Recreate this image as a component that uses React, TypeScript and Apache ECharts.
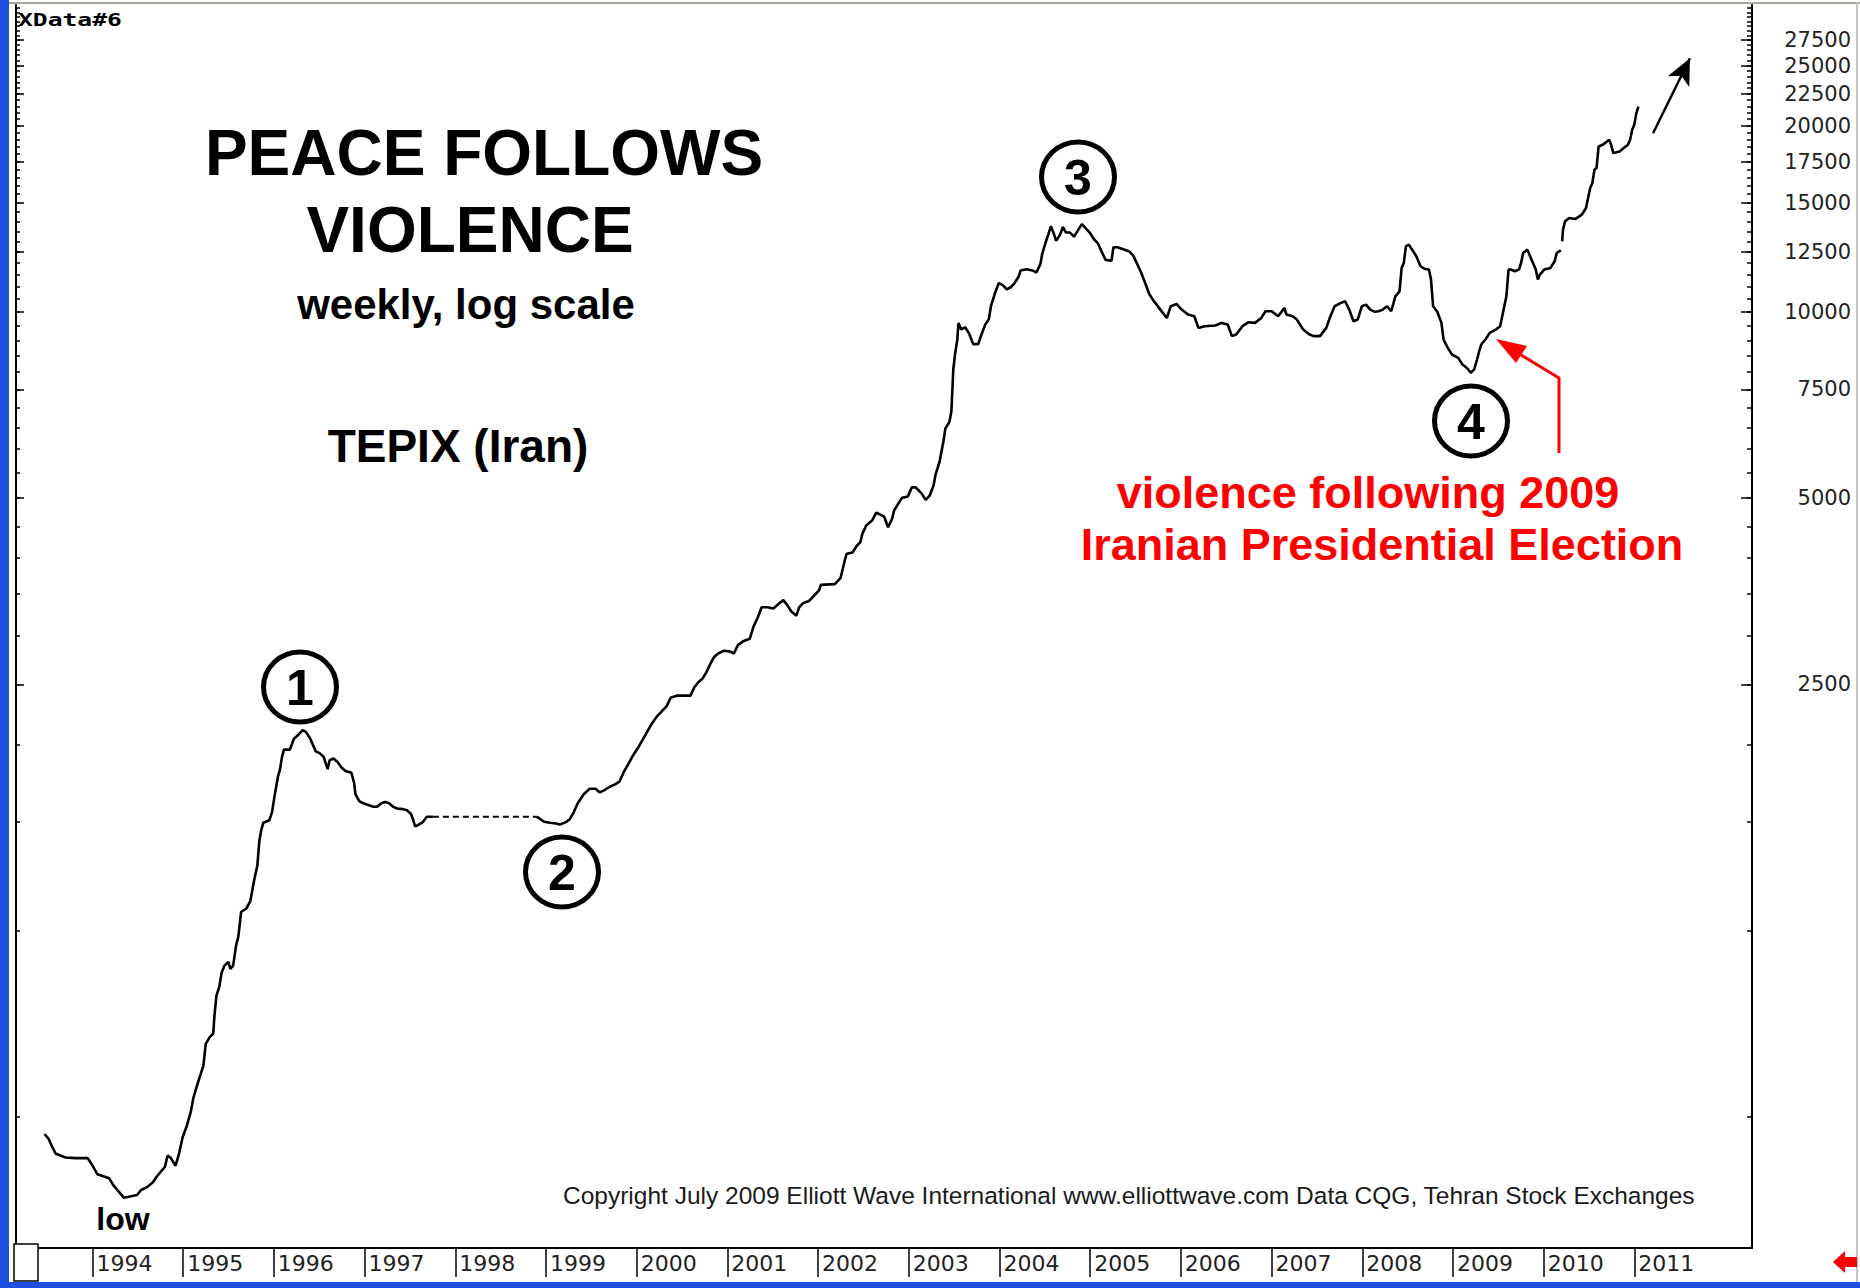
import React, { useEffect, useRef } from 'react';
import * as echarts from 'echarts';

// ---- data (decimal year, TEPIX index level) ----
const weekDates: number[] = [
  1993.472, 1993.516, 1993.551, 1993.595, 1993.704, 1993.813, 1993.945, 1993.989, 1994.054, 1994.185,
  1994.229, 1994.295, 1994.347, 1994.492, 1994.536, 1994.601, 1994.667, 1994.711, 1994.798, 1994.829,
  1994.864, 1994.916, 1994.951, 1994.995, 1995.039, 1995.083, 1995.113, 1995.148, 1995.192, 1995.223,
  1995.249, 1995.293, 1995.332, 1995.345, 1995.367, 1995.398, 1995.424, 1995.455, 1995.499, 1995.520,
  1995.551, 1995.586, 1995.608, 1995.639, 1995.696, 1995.740, 1995.783, 1995.818, 1995.840, 1995.862,
  1995.884, 1995.950, 1995.980, 1996.011, 1996.046, 1996.068, 1996.090, 1996.111, 1996.177, 1996.221,
  1996.265, 1996.317, 1996.352, 1996.396, 1996.462, 1996.505, 1996.549, 1996.593, 1996.615, 1996.658,
  1996.702, 1996.746, 1996.790, 1996.855, 1996.886, 1996.899, 1996.943, 1996.987, 1997.096, 1997.140,
  1997.184, 1997.228, 1997.271, 1997.315, 1997.359, 1997.424, 1997.468, 1997.512, 1997.534, 1997.556,
  1997.578, 1997.643, 1997.687, 1997.753,
  1998.300,
  1998.891, 1998.913, 1998.978, 1999.044, 1999.110, 1999.153, 1999.219, 1999.263, 1999.307, 1999.350,
  1999.416, 1999.482, 1999.547, 1999.591, 1999.635, 1999.700, 1999.766, 1999.810, 1999.854, 1999.898,
  1999.963,
  2000.026, 2000.092, 2000.157, 2000.222, 2000.266, 2000.331, 2000.375, 2000.440, 2000.593, 2000.636,
  2000.680, 2000.724, 2000.767, 2000.811, 2000.854, 2000.898, 2000.963, 2001.029, 2001.072, 2001.116,
  2001.181, 2001.247, 2001.290, 2001.334, 2001.378, 2001.443, 2001.508, 2001.574, 2001.617, 2001.661,
  2001.705, 2001.761, 2001.792, 2001.835, 2001.901, 2001.944, 2002.010, 2002.031, 2002.184, 2002.249,
  2002.293, 2002.315, 2002.380, 2002.424, 2002.467, 2002.489, 2002.533, 2002.598, 2002.642, 2002.685,
  2002.729, 2002.772, 2002.816, 2002.838, 2002.881, 2002.925, 2002.990, 2003.034, 2003.077, 2003.143,
  2003.186, 2003.230, 2003.274, 2003.295, 2003.339, 2003.383, 2003.404, 2003.448, 2003.470, 2003.491,
  2003.513, 2003.535, 2003.548, 2003.579, 2003.622, 2003.666, 2003.710, 2003.766, 2003.797, 2003.840,
  2003.884, 2003.906, 2003.949, 2003.993, 2004.037, 2004.080, 2004.124, 2004.167, 2004.211, 2004.233,
  2004.298, 2004.363, 2004.407, 2004.451, 2004.472, 2004.507, 2004.538, 2004.568, 2004.603, 2004.625,
  2004.669, 2004.699, 2004.734, 2004.778, 2004.821, 2004.865, 2004.908, 2004.952, 2004.995, 2005.039,
  2005.083, 2005.126, 2005.170, 2005.235, 2005.257, 2005.300, 2005.366, 2005.431, 2005.475, 2005.519,
  2005.562, 2005.606, 2005.649, 2005.693, 2005.780, 2005.845, 2005.889, 2005.954,
  2006.009, 2006.078, 2006.148, 2006.194, 2006.263, 2006.379, 2006.448, 2006.517, 2006.563, 2006.610,
  2006.679, 2006.748, 2006.817, 2006.887, 2006.933, 2007.002, 2007.072, 2007.141, 2007.164, 2007.233,
  2007.279, 2007.349, 2007.418, 2007.464, 2007.534, 2007.603, 2007.649, 2007.695, 2007.765, 2007.811,
  2007.857, 2007.903, 2007.949, 2007.996, 2008.042, 2008.088, 2008.134, 2008.180, 2008.227, 2008.273,
  2008.319, 2008.365, 2008.411, 2008.434, 2008.458, 2008.481, 2008.513, 2008.550, 2008.596, 2008.642,
  2008.689, 2008.735, 2008.758, 2008.781, 2008.827, 2008.873, 2008.896, 2008.943, 2008.989, 2009.058,
  2009.104, 2009.151, 2009.197, 2009.234, 2009.266, 2009.289, 2009.312, 2009.358, 2009.405, 2009.474,
  2009.520, 2009.543, 2009.566, 2009.589, 2009.613, 2009.636, 2009.682, 2009.728, 2009.751, 2009.774,
  2009.820, 2009.867, 2009.913, 2009.936, 2009.959, 2010.005, 2010.075, 2010.121, 2010.144, 2010.190,
  2010.197,
  2010.204, 2010.213, 2010.236, 2010.282, 2010.352, 2010.421, 2010.467, 2010.490, 2010.513, 2010.537,
  2010.560, 2010.583, 2010.606, 2010.652, 2010.698, 2010.721, 2010.744, 2010.768, 2010.837, 2010.883,
  2010.929, 2010.953, 2010.976, 2010.999, 2011.022, 2011.045,
];

const weekValues: (number | null)[] = [
  469, 461, 449, 436, 430, 429, 429, 420, 404, 398,
  388, 378, 370, 374, 381, 385, 392, 401, 415, 433,
  429, 417, 434, 464, 483, 509, 537, 559, 586, 605,
  656, 673, 682, 729, 785, 811, 855, 878, 890, 867,
  878, 951, 977, 1072, 1086, 1116, 1208, 1274, 1398, 1456,
  1494, 1508, 1555, 1662, 1776, 1824, 1910, 1962, 1962, 2042,
  2069, 2110, 2096, 2050, 1949, 1936, 1910, 1824, 1886, 1898,
  1873, 1836, 1812, 1800, 1729, 1662, 1618, 1607, 1586, 1586,
  1607, 1614, 1607, 1586, 1576, 1572, 1565, 1544, 1514, 1475,
  1479, 1498, 1528, 1528,
  null,
  1528, 1524, 1500, 1494, 1490, 1484, 1498, 1514, 1555, 1607,
  1662, 1696, 1696, 1673, 1684, 1707, 1725, 1741, 1800, 1848,
  1923,
  1987, 2066, 2149, 2218, 2253, 2306, 2379, 2398, 2398, 2474,
  2521, 2553, 2614, 2697, 2770, 2805, 2835, 2826, 2805, 2894,
  2940, 2963, 3105, 3204, 3332, 3332, 3316, 3384, 3422, 3358,
  3280, 3229, 3332, 3384, 3411, 3465, 3547, 3621, 3632, 3718,
  3959, 4066, 4085, 4182, 4248, 4383, 4522, 4608, 4740, 4703,
  4667, 4487, 4630, 4777, 4890, 5006, 5030, 5206, 5206, 5085,
  4969, 5047, 5248, 5458, 5721, 6186, 6484, 6641, 6905, 8075,
  8601, 9012, 9594, 9371, 9445, 9226, 8872, 8872, 9155, 9520,
  9745, 10216, 10708, 11135, 11049, 10877, 10963, 11135, 11400, 11670,
  11724, 11670, 11579, 11947, 12427, 12924, 13336, 13760, 13336, 13026,
  13336, 13718, 13439, 13439, 13231, 13546, 13868, 13653, 13439, 13127,
  12924, 12524, 12138, 12099, 12723, 12723, 12624, 12524, 12330, 11947,
  11579, 11135, 10708, 10459, 10058, 9777, 10216, 10297,
  10088, 9903, 9842, 9424, 9483, 9506, 9601, 9541, 9139, 9196,
  9483, 9625, 9601, 9781, 10026, 10026, 9842, 10151, 9903, 9842,
  9720, 9365, 9196, 9139, 9139, 9424, 9842, 10214, 10342, 10406,
  10088, 9661, 9720, 10214, 10278, 10088, 10010, 10026, 10088, 10214,
  10026, 10600, 10799, 11781, 12003, 12764, 12844, 12610, 12303, 11854,
  11737, 11708, 11281, 10214, 10010, 9601, 9025, 8750, 8535, 8430,
  8225, 8124, 7975, 8075, 8378, 8643, 8858, 9025, 9252, 9365,
  9483, 9842, 10214, 10600, 11708, 11708, 11635, 11708, 12003, 12457,
  12610, 12149, 11708, 11281, 11492, 11708, 11781, 12074, 12457, 12578,
  null,
  13008, 13583, 14013, 14188, 14136, 14366, 14726, 15284, 15859, 16158,
  16974, 17080, 18512, 18627, 18860, 18977, 18627, 18061, 18174, 18401,
  18627, 18977, 19695, 20066, 20957, 21478,
];

// closed-market stretch drawn dashed
const gapDates: number[] = [1997.753, 1998.891];
const gapValues: number[] = [1528, 1528];

// projection arrow (data space)
const arrowFrom: [number, number] = [2011.206, 19450];
const arrowTo: [number, number] = [2011.613, 25700];

// axes
const yearTicks: number[] = [1994, 1995, 1996, 1997, 1998, 1999, 2000, 2001, 2002, 2003, 2004, 2005, 2006, 2007, 2008, 2009, 2010, 2011];
const priceLabels: number[] = [2500, 5000, 7500, 10000, 12500, 15000, 17500, 20000, 22500, 25000, 27500];
const minorTicks: number[] = [
  500, 1000, 1500, 2000, 2500, 3000, 3500, 4000, 4500, 5000, 5500, 6000, 6500, 7000, 7500, 8000,
  8500, 9000, 9500, 10000, 10500, 11000, 11500, 12000, 12500, 13000, 13500, 14000, 14500, 15000,
  15500, 16000, 16500, 17000, 17500, 18000, 18500, 19000, 19500, 20000, 20500, 21000, 21500, 22000,
  22500, 23000, 23500, 24000, 24500, 25000, 25500, 26000, 26500, 27000, 27500, 28000, 28500, 29000,
  29500, 30000, 30500, 31000,
];

const X_MIN = 1993.157;
const X_MAX = 2012.297;
const Y_MIN = 307;
const Y_MAX = 31340;

const SANS = '"Liberation Sans", Arial, sans-serif';

function txt(text: string, x: number, y: number, size: number, opts: any = {}) {
  return {
    type: 'text',
    x,
    y,
    z: 100,
    silent: true,
    scaleX: opts.scaleX ?? 1,
    style: {
      text,
      fill: opts.color ?? '#000',
      font: `${opts.weight ?? 'bold'} ${size}px ${opts.family ?? SANS}`,
      align: opts.align ?? 'center',
      verticalAlign: 'middle',
      textAlign: opts.align ?? 'center',
      textVerticalAlign: 'middle',
    },
  };
}

const waveMarks = [
  { label: '1', cx: 300, cy: 687 },
  { label: '2', cx: 562, cy: 872 },
  { label: '3', cx: 1078, cy: 177 },
  { label: '4', cx: 1471, cy: 421 },
];

function buildOption(): any {
  const mainData = weekDates.map((d, i) => [d, weekValues[i] == null ? '-' : weekValues[i]]);
  const dashData = gapDates.map((d, i) => [d, gapValues[i]]);

  const yBase = {
    type: 'log',
    logBase: 10,
    min: Y_MIN,
    max: Y_MAX,
    splitLine: { show: false },
    minorTick: { show: false },
    minorSplitLine: { show: false },
  };

  const graphics: any[] = [
    // window chrome
    { type: 'rect', z: 90, silent: true, shape: { x: 0, y: 0, width: 9, height: 1288 }, style: { fill: '#1f4fe0' } },
    { type: 'rect', z: 90, silent: true, shape: { x: 9, y: 2, width: 1851, height: 2 }, style: { fill: '#a9a69b' } },
    { type: 'rect', z: 90, silent: true, shape: { x: 0, y: 1282, width: 1860, height: 6 }, style: { fill: '#1f4fe0' } },
    { type: 'rect', z: 90, silent: true, shape: { x: 1856, y: 2, width: 2, height: 1280 }, style: { fill: '#c4c4c4' } },
    { type: 'rect', z: 90, silent: true, shape: { x: 14, y: 1244, width: 24, height: 37 }, style: { fill: '#fff', stroke: '#000', lineWidth: 1.5 } },
    {
      type: 'polygon', z: 90, silent: true,
      shape: { points: [[1833, 1262], [1845, 1251], [1845, 1257], [1857, 1257], [1857, 1267], [1845, 1267], [1845, 1273]] },
      style: { fill: '#ff0000' },
    },
    txt('XData#6', 18, 20, 17, { family: '"DejaVu Sans Mono", monospace', align: 'left', scaleX: 1.45 }),
    // titles
    txt('PEACE FOLLOWS', 484, 153, 64),
    txt('VIOLENCE', 470, 230, 64),
    txt('weekly, log scale', 466, 304, 42),
    txt('TEPIX (Iran)', 458, 446, 46),
    txt('low', 123, 1219, 32),
    txt('violence following 2009', 1368, 492, 45, { color: '#ff0000' }),
    txt('Iranian Presidential Election', 1382, 544, 45, { color: '#ff0000' }),
    txt('Copyright July 2009 Elliott Wave International www.elliottwave.com Data CQG, Tehran Stock Exchanges', 563, 1195, 24.5, { weight: 'normal', align: 'left', color: '#1a1a1a' }),
    // red pointer
    {
      type: 'polyline', z: 95, silent: true,
      shape: { points: [[1559, 453], [1559, 378], [1521, 355]] },
      style: { stroke: '#ff0000', lineWidth: 3, fill: null },
    },
    {
      type: 'polygon', z: 95, silent: true,
      shape: { points: [[1496, 339], [1527, 346], [1516, 363]] },
      style: { fill: '#ff0000' },
    },
  ];
  waveMarks.forEach((m) => {
    graphics.push({
      type: 'ellipse', z: 95, silent: true,
      shape: { cx: m.cx, cy: m.cy, rx: 36.5, ry: 35 },
      style: { fill: 'transparent', stroke: '#000', lineWidth: 5 },
    });
    graphics.push(txt(m.label, m.cx, m.cy + 1, 50, { weight: 'bold' }));
  });

  return {
    animation: false,
    backgroundColor: '#ffffff',
    grid: { left: 16, right: 108, top: 5, bottom: 40, containLabel: false, outerBoundsMode: 'none' },
    xAxis: {
      type: 'value',
      min: X_MIN,
      max: X_MAX,
      axisLine: { show: true, onZero: false, lineStyle: { color: '#000', width: 2 } },
      axisTick: { show: true, customValues: yearTicks, inside: false, length: 29, lineStyle: { color: '#000', width: 1.5 } },
      axisLabel: {
        show: true,
        customValues: yearTicks,
        formatter: (v: number) => String(Math.round(v)),
        align: 'left',
        verticalAlign: 'top',
        padding: [0, 0, 0, 4],
        margin: 4,
        fontFamily: '"DejaVu Sans", sans-serif',
        fontSize: 22,
        color: '#222',
      },
      splitLine: { show: false },
    },
    yAxis: [
      {
        ...yBase,
        position: 'right',
        axisLine: { show: true, lineStyle: { color: '#000', width: 2 } },
        axisTick: { show: true, inside: true, length: 11, customValues: priceLabels, lineStyle: { color: '#000', width: 1.5 } },
        axisLabel: {
          show: true,
          customValues: priceLabels,
          formatter: (v: number) => String(Math.round(v)),
          align: 'right',
          margin: 99,
          padding: [0, 0, 3, 0],
          fontFamily: '"DejaVu Sans", sans-serif',
          fontSize: 21,
          color: '#222',
        },
      },
      {
        ...yBase,
        position: 'right',
        axisLine: { show: false },
        axisTick: { show: true, inside: true, length: 5, customValues: minorTicks, lineStyle: { color: '#000', width: 1.5 } },
        axisLabel: { show: false },
      },
      {
        ...yBase,
        position: 'left',
        axisLine: { show: true, lineStyle: { color: '#000', width: 2 } },
        axisTick: { show: true, inside: true, length: 8, customValues: priceLabels, lineStyle: { color: '#000', width: 1.5 } },
        axisLabel: { show: false },
      },
      {
        ...yBase,
        position: 'left',
        axisLine: { show: false },
        axisTick: { show: true, inside: true, length: 4, customValues: minorTicks, lineStyle: { color: '#000', width: 1.5 } },
        axisLabel: { show: false },
      },
    ],
    series: [
      {
        type: 'line',
        name: 'TEPIX',
        data: mainData,
        xAxisIndex: 0,
        yAxisIndex: 0,
        symbol: 'none',
        showSymbol: false,
        connectNulls: false,
        silent: true,
        lineStyle: { color: '#000', width: 2.6 },
        itemStyle: { color: '#000' },
        z: 5,
        markLine: {
          silent: true,
          symbol: ['none', 'arrow'],
          symbolSize: [18, 26],
          label: { show: false },
          lineStyle: { color: '#000', width: 2.5, type: 'solid' },
          data: [[{ coord: arrowFrom }, { coord: arrowTo }]],
        },
      },
      {
        type: 'line',
        name: 'gap',
        data: dashData,
        xAxisIndex: 0,
        yAxisIndex: 0,
        symbol: 'none',
        showSymbol: false,
        silent: true,
        lineStyle: { color: '#000', width: 2, type: [6, 4] },
        z: 5,
      },
    ],
    graphic: graphics,
  };
}

export default function App() {
  const ref = useRef<HTMLDivElement>(null);
  useEffect(() => {
    document.body.style.margin = '0';
    const el = ref.current;
    if (!el) return;
    const chart = echarts.init(el, null, { renderer: 'svg', width: 1860, height: 1288 });
    chart.setOption(buildOption());
    return () => {
      chart.dispose();
    };
  }, []);
  return (
    <div
      ref={ref}
      style={{ position: 'absolute', left: 0, top: 0, width: 1860, height: 1288, background: '#fff' }}
    />
  );
}
